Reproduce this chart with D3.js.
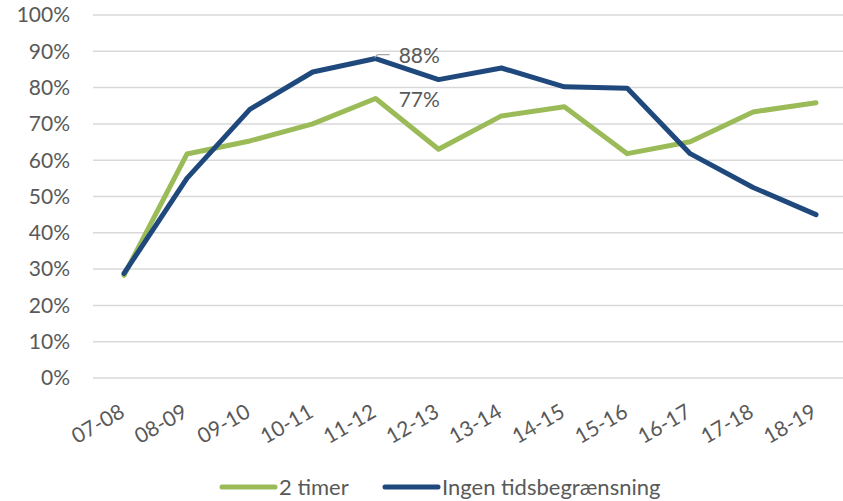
<!DOCTYPE html>
<html lang="da">
<head>
    <meta charset="UTF-8">
    <title>2 timer vs ingen tidsbegrænsning</title>
    <script src="https://d3js.org/d3.v7.min.js"></script>
    <style>
        body { margin: 0; background: #fff; }
        text {
            font-family: Lato, "Open Sans", sans-serif;
            fill: #595959;
            font-size: 21px;
        }
        .legend text { font-size: 22px; }
        .grid line { stroke: #d9d9d9; stroke-width: 1.5px; }
        .series { fill: none; stroke-width: 5px; stroke-linejoin: round; stroke-linecap: round; }
    </style>
</head>
<body>
<script>
    const width = 843;
    const height = 501;

    const seasons = ["07-08", "08-09", "09-10", "10-11", "11-12", "12-13",
                     "13-14", "14-15", "15-16", "16-17", "17-18", "18-19"];
    const twoHours = [0.283, 0.617, 0.653, 0.70, 0.77, 0.630, 0.722, 0.747, 0.618, 0.651, 0.733, 0.758];
    const noLimit  = [0.288, 0.550, 0.740, 0.843, 0.88, 0.822, 0.854, 0.802, 0.798, 0.618, 0.525, 0.450];
    const yTicks = [0, 0.1, 0.2, 0.3, 0.4, 0.5, 0.6, 0.7, 0.8, 0.9, 1];
    const seriesNames = ["2 timer", "Ingen tidsbegrænsning"];
    const colors = ["#9bbb59", "#1f497d"];

    const x = d3.scalePoint().domain(seasons).range([124, 816]);
    const y = d3.scaleLinear().domain([0, 1]).range([378, 15]);
    const pct = d3.format(".0%");

    const svg = d3.select("body").append("svg").attr("width", width).attr("height", height);

    // gridlines
    svg.append("g").attr("class", "grid")
        .selectAll("line")
        .data(yTicks)
        .enter().append("line")
        .attr("x1", 93).attr("x2", 843)
        .attr("y1", d => y(d)).attr("y2", d => y(d));

    // y axis labels
    svg.append("g")
        .selectAll("text")
        .data(yTicks)
        .enter().append("text")
        .attr("x", 70)
        .attr("y", d => y(d))
        .attr("dy", "0.35em")
        .attr("text-anchor", "end")
        .text(d => pct(d));

    // x axis labels, rotated
    svg.append("g")
        .selectAll("text")
        .data(seasons)
        .enter().append("text")
        .attr("text-anchor", "end")
        .attr("transform", d => `translate(${x(d) + 2},${416}) rotate(-30)`)
        .text(d => d);

    const line = d3.line()
        .x((d, i) => x(seasons[i]))
        .y(d => y(d));

    [twoHours, noLimit].forEach((data, i) => {
        svg.append("path")
            .attr("class", "series")
            .attr("stroke", colors[i])
            .attr("d", line(data));
    });

    // data labels at 11-12
    const peak = seasons.indexOf("11-12");
    const px = x(seasons[peak]);
    const py = y(noLimit[peak]);
    svg.append("path")
        .attr("d", `M${px - 1},${py - 1}L${px + 2},${py - 4}H${px + 14}`)
        .attr("fill", "none")
        .attr("stroke", "#a6a6a6").attr("stroke-width", 1.3);
    svg.append("text")
        .attr("x", px + 23)
        .attr("y", py - 3)
        .attr("dy", "0.35em")
        .text(pct(noLimit[peak]));
    svg.append("text")
        .attr("x", px + 23)
        .attr("y", y(twoHours[peak]) + 1)
        .attr("dy", "0.35em")
        .text(pct(twoHours[peak]));

    // legend
    const legend = svg.append("g").attr("class", "legend").attr("transform", "translate(0,487)");
    const legendX = [222, 385];
    seriesNames.forEach((name, i) => {
        legend.append("line")
            .attr("x1", legendX[i]).attr("x2", legendX[i] + 53)
            .attr("y1", 0).attr("y2", 0)
            .attr("stroke", colors[i]).attr("stroke-width", 5)
            .attr("stroke-linecap", "round");
        legend.append("text")
            .attr("x", legendX[i] + 57)
            .attr("y", 0)
            .attr("dy", "0.35em")
            .text(name);
    });
</script>
</body>
</html>
